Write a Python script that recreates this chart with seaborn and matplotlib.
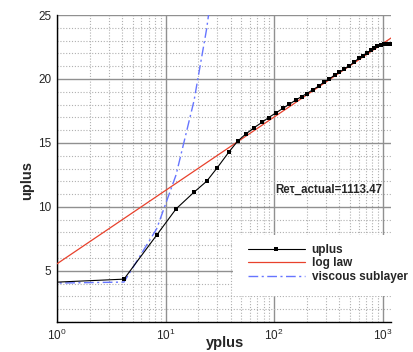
import numpy as np
import pandas as pd
import matplotlib
matplotlib.use("Agg")
import matplotlib.pyplot as plt
import seaborn as sns
from matplotlib.patches import Rectangle
from matplotlib.ticker import LogLocator, MultipleLocator

# ---- data ----
yplus = [0.8, 4.14, 8.28, 12.5, 18.3, 23.9, 29.9, 38.6, 46.1, 54.6, 65.6, 77.2, 89, 105,
         121, 138, 159, 179, 199, 228, 259, 289, 324, 361, 398, 443, 492, 543, 600,
         653, 711, 774, 835, 897, 962, 1040, 1090, 1130, 1160]
uplus = [4.08, 4.35, 7.79, 9.84, 11.15, 12.0, 13.05, 14.32, 15.13, 15.68, 16.2, 16.6,
         16.98, 17.37, 17.71, 18.02, 18.36, 18.62, 18.85, 19.16, 19.45, 19.77, 20.0,
         20.31, 20.52, 20.78, 21.02, 21.3, 21.6, 21.8, 22.0, 22.24, 22.45, 22.58,
         22.68, 22.72, 22.74, 22.75, 22.75]
visc_y = [0.8, 4.14, 8.28, 12.5, 18.3, 23.9, 29.9]
visc_u = [4.03, 4.12, 8.28, 12.5, 18.3, 23.9, 29.9]
log_y = [1.0, 1195.0]
log_u = [5.55, 23.2]
ret_label = "Re\u03c4_actual=1113.47"

W, H = 413, 352
plt.rcParams["mathtext.fontset"] = "custom"
plt.rcParams["mathtext.rm"] = "Liberation Sans"
plt.rcParams["mathtext.it"] = "Liberation Sans:italic"
plt.rcParams["mathtext.bf"] = "Liberation Sans:bold"
sns.set_style("white")
plt.rcParams["font.family"] = ["Liberation Sans", "DejaVu Sans"]

fig = plt.figure(figsize=(W / 100, H / 100), dpi=100)
L, R, T, B = 57, 391, 15, 322
ax = fig.add_axes([L / W, (H - B) / H, (R - L) / W, (B - T) / H])
ax.set_xscale("log")

df_u = pd.DataFrame({"yplus": yplus, "uplus": uplus})
df_l = pd.DataFrame({"yplus": log_y, "uplus": log_u})
df_v = pd.DataFrame({"yplus": visc_y, "uplus": visc_u})

sns.lineplot(data=df_u, x="yplus", y="uplus", ax=ax, sort=False, estimator=None,
             color="black", lw=0.8, marker="s", markersize=3.4, markeredgewidth=0,
             label="uplus", zorder=5)
sns.lineplot(data=df_l, x="yplus", y="uplus", ax=ax, sort=False, estimator=None,
             color="#e8412c", lw=0.9, label="log law", zorder=4)
sns.lineplot(data=df_v, x="yplus", y="uplus", ax=ax, sort=False, estimator=None,
             color="#6675ff", lw=1.0, dashes=(7, 2.5, 1.5, 2.5), label="viscous sublayer",
             zorder=4)

ax.set_xlim(1, 1195)
ax.set_ylim(1, 25)
ax.xaxis.set_major_locator(LogLocator(base=10, numticks=10))
ax.xaxis.set_minor_locator(LogLocator(base=10, subs=np.arange(2, 10), numticks=20))
ax.yaxis.set_major_locator(MultipleLocator(5))
ax.yaxis.set_minor_locator(MultipleLocator(1))

ax.grid(which="major", color="#909090", lw=1.0, ls="-", zorder=1)
ax.grid(which="minor", color="#b0b0b0", lw=0.8, ls=(0, (1, 1.6)), zorder=1)
ax.set_axisbelow(True)

for s in ["top", "right"]:
    ax.spines[s].set_visible(False)
for s in ["left", "bottom"]:
    ax.spines[s].set_color("black")
    ax.spines[s].set_linewidth(1.0)

ax.tick_params(which="major", direction="in", length=5, width=1.0, color="#333333",
               labelsize=8.5, pad=4, top=False, right=False)
ax.tick_params(which="minor", direction="in", length=3, width=0.7, color="#555555",
               top=False, right=False)

ax.set_xlabel("")
ax.set_ylabel("")
fig.text(225 / W, 1 - 343 / H, "yplus", fontsize=10.5, fontweight="bold",
         ha="center", va="center")
fig.text(27 / W, 1 - 180 / H, "uplus", fontsize=10.5, fontweight="bold",
         ha="center", va="center", rotation=90)
fig.text(275 / W, 1 - 190 / H, ret_label, fontsize=8.3, fontweight="bold",
         ha="left", va="center")

# white area behind legend (hides grid)
rect = Rectangle((233 / W, 1 - 296 / H), (W - 233) / W, (296 - 235) / H,
                 transform=fig.transFigure, facecolor="white", edgecolor="none", zorder=2)
ax.add_patch(rect)
rect.set_clip_on(False)

leg = ax.legend(loc="upper left", bbox_to_anchor=(248 / W, 1 - 244 / H),
                bbox_transform=fig.transFigure, frameon=False, borderpad=0,
                borderaxespad=0, handlelength=4.8, handletextpad=0.6,
                labelspacing=0.12, numpoints=1, prop={"size": 8.5, "weight": "bold"})
leg.set_zorder(6)

fig.savefig("out.png", dpi=100)
